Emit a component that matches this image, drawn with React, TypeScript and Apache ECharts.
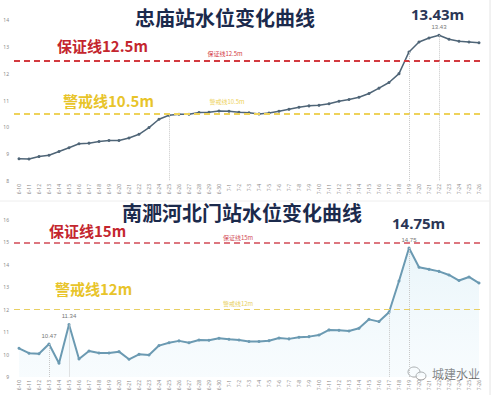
import React, { useEffect, useRef } from "react";
import * as echarts from "echarts";

const dates = [
  "6-10", "6-11", "6-12", "6-13", "6-14", "6-15", "6-16", "6-17", "6-18", "6-19",
  "6-20", "6-21", "6-22", "6-23", "6-24", "6-25", "6-26", "6-27", "6-28", "6-29",
  "6-30", "7-1", "7-2", "7-3", "7-4", "7-5", "7-6", "7-7", "7-8", "7-9",
  "7-10", "7-11", "7-12", "7-13", "7-14", "7-15", "7-16", "7-17", "7-18", "7-19",
  "7-20", "7-21", "7-22", "7-23", "7-24", "7-25", "7-26",
];

const zhongmiaoLevels = [
  8.83, 8.82, 8.91, 8.96, 9.1, 9.24, 9.39, 9.41, 9.47, 9.51,
  9.51, 9.6, 9.74, 9.99, 10.3, 10.45, 10.49, 10.49, 10.55, 10.56,
  10.61, 10.6, 10.56, 10.54, 10.5, 10.53, 10.6, 10.67, 10.75, 10.8,
  10.82, 10.88, 10.97, 11.04, 11.12, 11.26, 11.46, 11.67, 12.0, 12.81,
  13.18, 13.33, 13.43, 13.28, 13.21, 13.18, 13.15,
];

const beimenLevels = [
  10.28, 10.06, 10.04, 10.47, 9.61, 11.34, 9.8, 10.16, 10.07, 10.07,
  10.13, 9.79, 10.01, 9.98, 10.4, 10.53, 10.61, 10.53, 10.65, 10.64,
  10.73, 10.68, 10.65, 10.58, 10.58, 10.62, 10.74, 10.7, 10.77, 10.8,
  10.87, 11.1, 11.08, 11.05, 11.17, 11.57, 11.47, 11.89, 13.28, 14.75,
  13.89, 13.8, 13.71, 13.55, 13.3, 13.46, 13.19,
];

const topGuarantee = 12.5;
const topWarning = 10.5;
const bottomGuarantee = 15;
const bottomWarning = 12;

const topLabelled = [42];
const topDropLines = [15, 39, 42];
const bottomLabelled = [3, 5, 39];
const bottomDropLines = [3, 5, 37, 39];

const CJK = "'Noto Sans CJK SC', 'Noto Sans', sans-serif";

export default function App() {
  const ref = useRef<HTMLDivElement>(null);

  useEffect(() => {
    if (!ref.current) return;
    const chart = echarts.init(ref.current, undefined, { renderer: "svg" });

    const xAxisBase = (gridIndex: number) => ({
      type: "category" as const,
      gridIndex,
      data: dates,
      boundaryGap: true,
      axisLine: { show: false },
      axisTick: { show: false },
      axisLabel: {
        rotate: 90,
        fontSize: 5,
        color: "#8a8a8a",
        interval: 0,
        margin: 3,
        fontFamily: "'Noto Sans', sans-serif",
      },
      splitLine: { show: false },
    });

    const yAxisBase = (gridIndex: number, min: number, max: number) => ({
      type: "value" as const,
      gridIndex,
      min,
      max,
      interval: 1,
      axisLine: { show: false },
      axisTick: { show: false },
      splitLine: { show: false },
      axisLabel: { fontSize: 5, color: "#8a8a8a", margin: 5, fontFamily: "'Noto Sans', sans-serif" },
    });

    const hLine = (value: number, color: string, text: string, width: number, pad: number, dist: number) => ({
      yAxis: value,
      lineStyle: { color, type: [6, 4], width },
      label: {
        show: true,
        formatter: text,
        position: "insideMiddleTop",
        fontSize: 6,
        color,
        distance: dist,
        padding: [0, pad, 0, 0],
        fontFamily: CJK,
      },
    });

    const dropLines = (idx: number[], values: number[], min: number) =>
      idx.map((i) => [
        { coord: [dates[i], values[i]], lineStyle: { color: "#c8c8c8", type: "dotted", width: 1 }, label: { show: false } },
        { coord: [dates[i], min] },
      ]);

    const makeData = (values: number[], labelled: number[]) =>
      values.map((v, i) =>
        labelled.includes(i)
          ? { value: v, label: { show: true, position: "top", distance: 4, fontSize: 6, color: "#777", formatter: (p: any) => p.value.toFixed(2) } }
          : v
      );

    chart.setOption({
      animation: false,
      backgroundColor: "#ffffff",
      grid: [
        { left: 14, width: 470, top: 20, height: 161 },
        { left: 14, width: 470, top: 220, height: 157 },
      ],
      xAxis: [xAxisBase(0), xAxisBase(1)],
      yAxis: [yAxisBase(0, 8, 14), yAxisBase(1, 9, 16)],
      series: [
        {
          type: "line",
          xAxisIndex: 0,
          yAxisIndex: 0,
          data: makeData(zhongmiaoLevels, topLabelled),
          symbol: "circle",
          symbolSize: 3,
          lineStyle: { color: "#4f6577", width: 1.5 },
          itemStyle: { color: "#4f6577" },
          markLine: {
            silent: true,
            symbol: "none",
            data: [
              hLine(topGuarantee, "#d33a3f", "保证线12.5m", 2, 48, 4),
              hLine(topWarning, "#eed25a", "警戒线10.5m", 2, 44, 9),
              ...dropLines(topDropLines, zhongmiaoLevels, 8),
            ],
          },
        },
        {
          type: "line",
          xAxisIndex: 1,
          yAxisIndex: 1,
          data: makeData(beimenLevels, bottomLabelled),
          symbol: "circle",
          symbolSize: 3,
          lineStyle: { color: "#6b9ab2", width: 2 },
          itemStyle: { color: "#6b9ab2" },
          areaStyle: {
            color: new echarts.graphic.LinearGradient(0, 0, 0, 1, [
              { offset: 0, color: "rgba(200,230,242,0.55)" },
              { offset: 1, color: "rgba(225,242,250,0.35)" },
            ]),
            origin: "start",
          },
          markLine: {
            silent: true,
            symbol: "none",
            data: [
              hLine(bottomGuarantee, "#d24a55", "保证线15m", 1.5, 22, 2),
              hLine(bottomWarning, "#e8cf62", "警戒线12m", 1, 22, 3),
              ...dropLines(bottomDropLines, beimenLevels, 9),
            ],
          },
        },
      ],
      graphic: [
        { type: "line", shape: { x1: 490, y1: 0, x2: 490, y2: 395 }, style: { stroke: "#e4e4e4", lineWidth: 1 } },
        { type: "line", shape: { x1: 0, y1: 201, x2: 490, y2: 201 }, style: { stroke: "#eeeeee", lineWidth: 1 } },
        { type: "text", x: 135, y: 17, style: { text: "忠庙站水位变化曲线", font: `bold 20px ${CJK}`, fill: "#1b2a4c", verticalAlign: "middle" } },
        { type: "text", x: 411, y: 14, style: { text: "13.43m", font: "bold 15px 'Noto Sans', sans-serif", fill: "#2a3656", verticalAlign: "middle" } },
        { type: "text", x: 57, y: 45, style: { text: "保证线12.5m", font: `bold 15px ${CJK}`, fill: "#c4262e", verticalAlign: "middle" } },
        { type: "text", x: 63, y: 100, style: { text: "警戒线10.5m", font: `bold 15px ${CJK}`, fill: "#e8c42a", verticalAlign: "middle" } },
        { type: "text", x: 122, y: 212, style: { text: "南淝河北门站水位变化曲线", font: `bold 20px ${CJK}`, fill: "#1b2a4c", verticalAlign: "middle" } },
        { type: "text", x: 392, y: 223, style: { text: "14.75m", font: "bold 15px 'Noto Sans', sans-serif", fill: "#2a3656", verticalAlign: "middle" } },
        { type: "text", x: 49, y: 230, style: { text: "保证线15m", font: `bold 15px ${CJK}`, fill: "#c4262e", verticalAlign: "middle" } },
        { type: "text", x: 55, y: 288, style: { text: "警戒线12m", font: `bold 15px ${CJK}`, fill: "#e8c42a", verticalAlign: "middle" } },
        { type: "ellipse", shape: { cx: 414, cy: 372, rx: 6, ry: 5 }, style: { fill: "rgba(255,255,255,0.8)", stroke: "#9a9a9a", lineWidth: 1 } },
        { type: "ellipse", shape: { cx: 421, cy: 376, rx: 5, ry: 4 }, style: { fill: "rgba(255,255,255,0.8)", stroke: "#9a9a9a", lineWidth: 1 } },
        { type: "text", x: 432, y: 373, style: { text: "城建水业", font: `12px ${CJK}`, fill: "#6a6a6a", stroke: "#ffffff", lineWidth: 2, verticalAlign: "middle" } },
      ],
    });

    return () => chart.dispose();
  }, []);

  return (
    <div
      ref={ref}
      style={{ position: "fixed", left: 0, top: 0, width: 496, height: 395, background: "#fff" }}
    />
  );
}
